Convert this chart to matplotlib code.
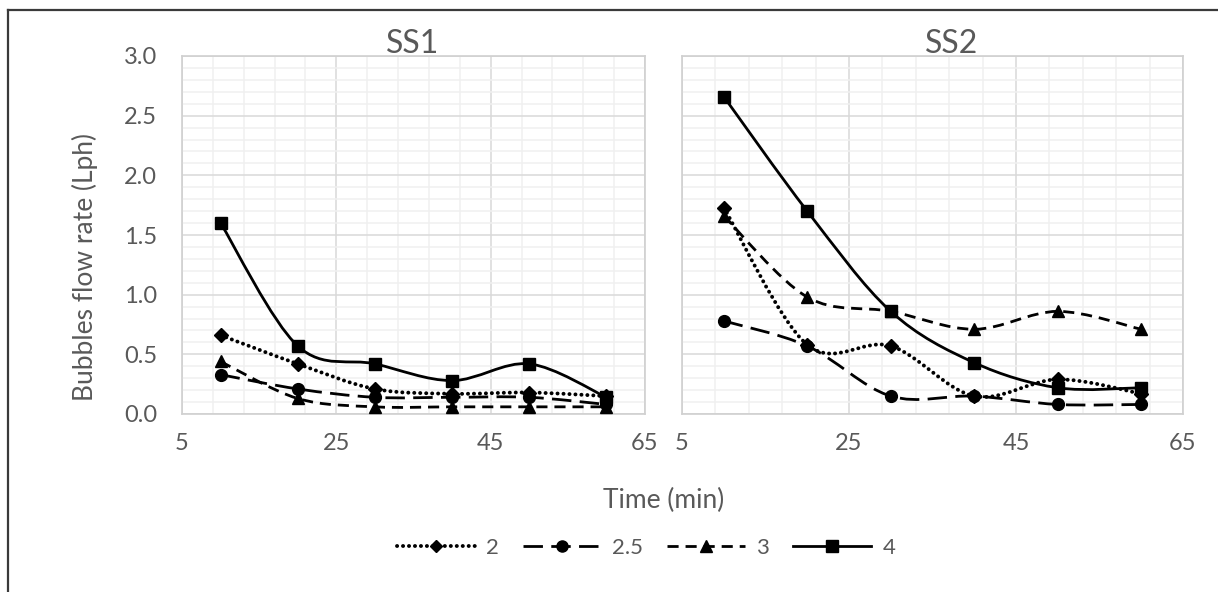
import numpy as np
import matplotlib
matplotlib.use("Agg")
import matplotlib.pyplot as plt
from matplotlib.path import Path
from matplotlib.patches import PathPatch
from matplotlib.lines import Line2D
from matplotlib.ticker import MultipleLocator

plt.rcParams['font.family'] = ['Lato', 'DejaVu Sans']
plt.rcParams['lines.scale_dashes'] = False

# data
time_min = [10, 20, 30, 40, 50, 60]
series_names = ["2", "2.5", "3", "4"]

ss1_2 = [0.66, 0.42, 0.21, 0.17, 0.18, 0.15]
ss1_25 = [0.33, 0.21, 0.14, 0.14, 0.14, 0.08]
ss1_3 = [0.44, 0.13, 0.06, 0.06, 0.06, 0.06]
ss1_4 = [1.60, 0.57, 0.42, 0.28, 0.42, 0.14]

ss2_2 = [1.73, 0.58, 0.57, 0.15, 0.29, 0.17]
ss2_25 = [0.78, 0.57, 0.15, 0.15, 0.08, 0.08]
ss2_3 = [1.66, 0.98, 0.86, 0.71, 0.86, 0.71]
ss2_4 = [2.66, 1.70, 0.86, 0.43, 0.22, 0.22]

styles = [
    dict(ls=(0, (0.1, 4.2)), lw=2.8, marker="D", ms=7),
    dict(ls=(0, (14, 6)), lw=2.0, marker="o", ms=8.5),
    dict(ls=(0, (8, 5)), lw=2.0, marker="^", ms=8.5),
    dict(ls="-", lw=2.0, marker="s", ms=8.5),
]

grey = "#595959"
W, H = 1218, 592


def smooth_path(x, y):
    # excel-like smoothed line: catmull-rom turned into cubic bezier
    p = np.column_stack([x, y]).astype(float)
    verts = [p[0]]
    codes = [Path.MOVETO]
    n = len(p)
    for i in range(n - 1):
        p_prev = p[i - 1] if i > 0 else p[i]
        p_next2 = p[i + 2] if i + 2 < n else p[i + 1]
        c1 = p[i] + (p[i + 1] - p_prev) / 6
        c2 = p[i + 1] - (p_next2 - p[i]) / 6
        verts += [c1, c2, p[i + 1]]
        codes += [Path.CURVE4] * 3
    return Path(verts, codes)


def draw_panel(ax, series):
    ax.set_xlim(5, 65)
    ax.set_ylim(0, 3)
    ax.xaxis.set_major_locator(MultipleLocator(20, offset=5))
    ax.xaxis.set_minor_locator(MultipleLocator(4, offset=1))
    ax.yaxis.set_major_locator(MultipleLocator(0.5))
    ax.yaxis.set_minor_locator(MultipleLocator(0.1))
    ax.grid(which="major", color="#d9d9d9", lw=1.1)
    ax.grid(which="minor", color="#f0f0f0", lw=1.1)
    ax.set_axisbelow(True)
    for s in ax.spines.values():
        s.set_color("#d0d0d0")
        s.set_linewidth(1.2)
    ax.tick_params(which="both", length=0, labelsize=17, labelcolor=grey)
    ax.tick_params(axis="x", pad=14)
    ax.tick_params(axis="y", pad=18)
    ax.yaxis.set_major_formatter(lambda v, pos: f"{v:.1f}")
    for vals, st in zip(series, styles):
        patch = PathPatch(smooth_path(time_min, vals), fill=False, ec="black",
                          lw=st["lw"], linestyle=st["ls"],
                          capstyle="round" if st["marker"] == "D" else "butt",
                          joinstyle="round", zorder=3)
        ax.add_patch(patch)
        ax.plot(time_min, vals, linestyle="none", marker=st["marker"], ms=st["ms"],
                color="black", zorder=4)


fig = plt.figure(figsize=(W / 100, H / 100), dpi=100)

ax1 = fig.add_axes([182 / W, 1 - 414 / H, (645 - 182) / W, (414 - 56) / H])
ax2 = fig.add_axes([682 / W, 1 - 414 / H, (1183 - 682) / W, (414 - 56) / H])

draw_panel(ax1, [ss1_2, ss1_25, ss1_3, ss1_4])
draw_panel(ax2, [ss2_2, ss2_25, ss2_3, ss2_4])
ax2.tick_params(axis="y", labelleft=False)

fig.text(413 / W, 1 - 53 / H, "SS1", ha="center", va="baseline", fontsize=23, color=grey)
fig.text(952 / W, 1 - 53 / H, "SS2", ha="center", va="baseline", fontsize=23, color=grey)
fig.text(85 / W, 1 - 267 / H, "Bubbles flow rate (Lph)", rotation=90, ha="center",
         va="center", fontsize=19, color=grey)
fig.text(664 / W, 1 - 500 / H, "Time (min)", ha="center", va="center", fontsize=19, color=grey)

handles = []
for st in styles:
    handles.append(Line2D([], [], color="black", lw=st["lw"], linestyle=st["ls"],
                          marker=st["marker"], ms=st["ms"] - 0.5,
                          dash_capstyle="round" if st["marker"] == "D" else "butt"))
leg = fig.legend(handles, series_names, loc="center", bbox_to_anchor=(646 / W, 1 - 548 / H),
                 ncol=4, frameon=False, fontsize=16, handlelength=3.5, columnspacing=1.1,
                 handletextpad=0.5)
for t in leg.get_texts():
    t.set_color(grey)

# outer frame: only left and top edges are visible in the reference
fig.add_artist(Line2D([8 / W, 8 / W], [0, 1 - 10 / H], color="#3a3a3a", lw=1.6,
                      transform=fig.transFigure))
fig.add_artist(Line2D([8 / W, 1], [1 - 10 / H, 1 - 10 / H], color="#3a3a3a", lw=1.6,
                      transform=fig.transFigure))

fig.savefig("out.png", dpi=100)
